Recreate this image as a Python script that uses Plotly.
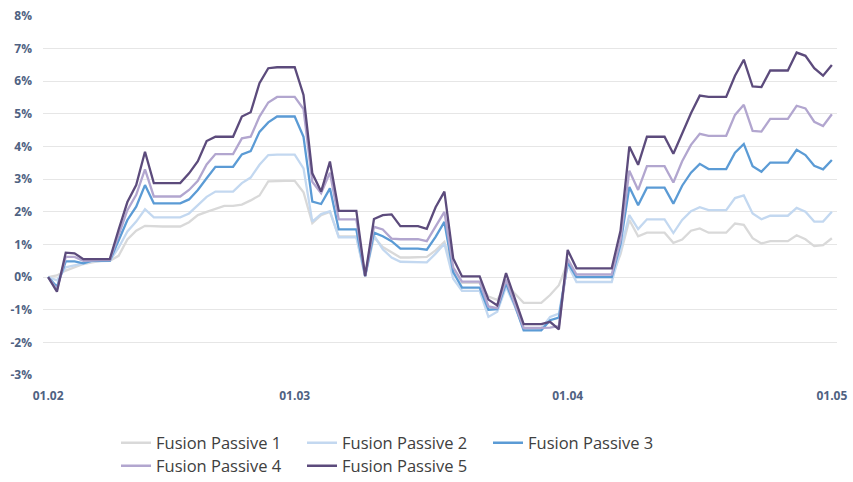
import pandas as pd
import plotly.graph_objects as go

# Daily cumulative performance (%) from 1 Feb to 1 May
dates = pd.date_range("2026-02-01", periods=90, freq="D")

passive_1 = [
    0, 0.05, 0.2, 0.3, 0.4, 0.45, 0.5, 0.5, 0.65, 1.15,
    1.42, 1.57, 1.55, 1.55, 1.55, 1.55, 1.68, 1.9, 2.0, 2.1,
    2.18, 2.18, 2.22, 2.35, 2.5, 2.93, 2.95, 2.95, 2.95, 2.6,
    1.65, 1.9, 2.0, 1.25, 1.25, 1.25, 0.03, 1.22, 0.92, 0.75,
    0.6, 0.6, 0.6, 0.62, 0.82, 1.08, 0.2, -0.18, -0.18, -0.18,
    -0.6, -0.7, -0.22, -0.5, -0.79, -0.79, -0.79, -0.55, -0.25, 0.45,
    0.0, 0.0, 0.0, 0.0, 0.0, 0.7, 1.75, 1.25, 1.36, 1.36,
    1.36, 1.05, 1.15, 1.42, 1.49, 1.36, 1.36, 1.36, 1.64, 1.6,
    1.19, 1.03, 1.1, 1.1, 1.1, 1.28, 1.16, 0.95, 0.98, 1.19,
]
passive_2 = [
    0, -0.1, 0.3, 0.35, 0.42, 0.48, 0.5, 0.5, 0.9, 1.4,
    1.7, 2.08, 1.83, 1.83, 1.83, 1.83, 1.95, 2.2, 2.46, 2.62,
    2.62, 2.62, 2.88, 3.05, 3.44, 3.74, 3.75, 3.75, 3.75, 3.33,
    1.7, 1.93, 2.02, 1.22, 1.22, 1.22, 0.02, 1.28, 0.85, 0.6,
    0.47, 0.47, 0.47, 0.45, 0.72, 1.02, -0.05, -0.42, -0.42, -0.42,
    -1.22, -1.06, -0.3, -0.9, -1.57, -1.57, -1.57, -1.22, -1.12, 0.38,
    -0.15, -0.15, -0.15, -0.15, -0.15, 0.82, 1.9, 1.47, 1.77, 1.77,
    1.77, 1.35, 1.75, 2.02, 2.14, 2.05, 2.05, 2.05, 2.42, 2.5,
    1.95, 1.77, 1.88, 1.88, 1.88, 2.12, 2.0, 1.7, 1.7, 2.0,
]
passive_3 = [
    0, -0.3, 0.48, 0.48, 0.42, 0.5, 0.5, 0.5, 1.12, 1.75,
    2.16, 2.82, 2.26, 2.26, 2.26, 2.26, 2.38, 2.67, 3.03, 3.38,
    3.38, 3.38, 3.76, 3.86, 4.45, 4.74, 4.92, 4.92, 4.92, 4.3,
    2.31, 2.24, 2.72, 1.46, 1.46, 1.46, 0.03, 1.36, 1.25, 1.1,
    0.87, 0.87, 0.87, 0.84, 1.23, 1.69, 0.15, -0.32, -0.32, -0.32,
    -1.0, -0.98, -0.19, -0.86, -1.63, -1.63, -1.63, -1.32, -1.24, 0.45,
    0.0, 0.0, 0.0, 0.0, 0.0, 1.02, 2.76, 2.2, 2.74, 2.74,
    2.74, 2.25, 2.8, 3.2, 3.47, 3.31, 3.31, 3.31, 3.81, 4.08,
    3.4, 3.23, 3.51, 3.51, 3.51, 3.9, 3.74, 3.41, 3.3, 3.59,
]
passive_4 = [
    0, -0.38, 0.62, 0.62, 0.5, 0.52, 0.52, 0.52, 1.3, 2.05,
    2.52, 3.3, 2.47, 2.47, 2.47, 2.47, 2.67, 2.95, 3.45, 3.77,
    3.77, 3.77, 4.25, 4.3, 4.92, 5.35, 5.52, 5.52, 5.52, 5.15,
    2.92, 2.57, 3.2, 1.77, 1.77, 1.77, 0.03, 1.54, 1.46, 1.18,
    1.16, 1.16, 1.16, 1.1, 1.54, 2.0, 0.3, -0.14, -0.14, -0.14,
    -0.9, -0.95, -0.08, -0.8, -1.56, -1.56, -1.56, -1.55, -1.5, 0.56,
    0.08, 0.08, 0.08, 0.08, 0.08, 1.13, 3.26, 2.67, 3.4, 3.4,
    3.4, 2.9, 3.55, 4.05, 4.39, 4.33, 4.33, 4.33, 4.97, 5.28,
    4.48, 4.46, 4.85, 4.85, 4.85, 5.25, 5.17, 4.76, 4.63, 4.99,
]
passive_5 = [
    0, -0.45, 0.75, 0.73, 0.55, 0.55, 0.55, 0.55, 1.45, 2.3,
    2.82, 3.84, 2.88, 2.88, 2.88, 2.88, 3.18, 3.55, 4.17, 4.3,
    4.3, 4.3, 4.92, 5.05, 5.94, 6.4, 6.43, 6.43, 6.43, 5.58,
    3.18, 2.62, 3.54, 2.03, 2.03, 2.03, 0.03, 1.78, 1.9, 1.92,
    1.56, 1.56, 1.56, 1.48, 2.14, 2.62, 0.57, 0.02, 0.02, 0.02,
    -0.69, -0.87, 0.12, -0.68, -1.44, -1.44, -1.44, -1.37, -1.6, 0.83,
    0.27, 0.27, 0.27, 0.27, 0.27, 1.42, 4.0, 3.44, 4.3, 4.3,
    4.3, 3.78, 4.4, 5.02, 5.56, 5.52, 5.52, 5.52, 6.17, 6.66,
    5.84, 5.82, 6.33, 6.33, 6.33, 6.88, 6.78, 6.4, 6.17, 6.5,
]

series_names = ["Fusion Passive 1", "Fusion Passive 2", "Fusion Passive 3",
                "Fusion Passive 4", "Fusion Passive 5"]
series_values = [passive_1, passive_2, passive_3, passive_4, passive_5]
series_colors = ["#d9d9d9", "#c3d8f0", "#5b9bd5", "#b2a6cf", "#5c4b7c"]
legend_rows = ["legend", "legend", "legend", "legend2", "legend2"]

x_tick_dates = ["2026-02-01", "2026-03-01", "2026-04-01", "2026-05-01"]
x_tick_labels = ["01.02", "01.03", "01.04", "01.05"]
y_tick_values = list(range(-3, 9))
y_tick_labels = [f"{v}%" for v in y_tick_values]

fig = go.Figure()
for name, vals, color, leg in zip(series_names, series_values, series_colors, legend_rows):
    fig.add_trace(go.Scatter(
        x=dates, y=vals, name=name, mode="lines",
        line=dict(color=color, width=2.3),
        legend=leg,
    ))

tick_font = dict(family="Open Sans", size=12, color="#4f6282", weight="bold")
legend_font = dict(family="Open Sans", size=16.5, color="#404040")

legend_common = dict(
    orientation="h", xref="container", yref="container",
    x=116 / 853, xanchor="left", yanchor="middle",
    entrywidth=141, entrywidthmode="pixels",
    font=legend_font, bgcolor="rgba(0,0,0,0)", borderwidth=0,
    itemclick=False, itemdoubleclick=False,
)

fig.update_layout(
    width=853, height=482,
    margin=dict(l=43, r=16, t=16, b=107, autoexpand=False),
    paper_bgcolor="white", plot_bgcolor="white",
    xaxis=dict(
        range=[pd.Timestamp("2026-02-01") - pd.Timedelta(hours=14),
               pd.Timestamp("2026-05-01") + pd.Timedelta(hours=14)],
        tickvals=x_tick_dates, ticktext=x_tick_labels,
        showgrid=False, zeroline=False, showline=False, automargin=False,
        tickfont=tick_font, ticks="", ticklabelstandoff=12,
    ),
    yaxis=dict(
        range=[-3, 8],
        tickvals=y_tick_values, ticktext=y_tick_labels,
        showgrid=True, gridcolor="#e6e6e6", gridwidth=1,
        zeroline=False, showline=False, automargin=False,
        tickfont=tick_font, ticks="", ticklabelstandoff=10,
    ),
    legend=dict(legend_common, y=(482 - 443) / 482),
    legend2=dict(legend_common, y=(482 - 466) / 482),
)

fig.write_html("out.html")
